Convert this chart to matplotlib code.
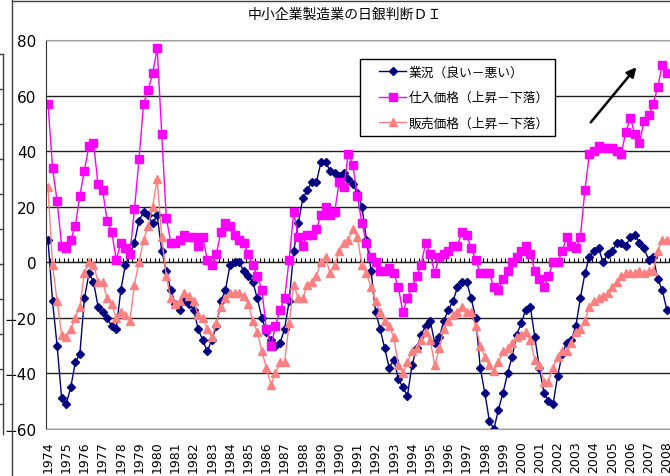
import matplotlib.pyplot as plt
from matplotlib.lines import Line2D
from matplotlib.legend_handler import HandlerLine2D
import numpy as np

plt.rcParams['font.family'] = ['Noto Sans CJK JP', 'DejaVu Sans']

# quarterly DI, 1974 Q1 onwards
first_year, last_year = 1974, 2008

business = [8, -14, -30, -49, -51, -45, -36, -33, -13, -4, -7, -16, -18, -20, -23, -24,
            -10, -1, 3, 7, 15, 18, 17, 14, 17, 4, -3, -10, -15, -17, -14, -15,
            -17, -24, -28, -32, -28, -23, -14, -10, -1, 0, 0, -3, -5, -7, -13, -20,
            -25, -28, -30, -29, -24, -14, 4, 14, 23, 26, 29, 29, 36, 36, 33, 32,
            31, 32, 30, 28, 25, 20, 8, -3, -18, -24, -31, -38, -35, -42, -45, -48,
            -37, -31, -26, -23, -21, -29, -27, -21, -17, -14, -9, -7, -7, -13, -20, -38,
            -47, -57, -60, -53, -47, -40, -34, -26, -22, -17, -16, -27, -38, -47, -50, -51,
            -41, -33, -29, -28, -23, -13, -4, 2, 4, 5, 0, 3, 4, 7, 7, 6,
            9, 10, 7, 5, 1, 2, -6, -10, -17]

input_price = [57, 34, 22, 6, 5, 8, 13, 24, 33, 42, 43, 28, 26, 15, 11, 1,
               7, 5, 3, 19, 37, 57, 62, 68, 77, 46, 16, 7, 7, 8, 10, 9,
               9, 6, 9, 1, -1, 3, 11, 14, 13, 10, 8, 7, 3, -1, -5, -10,
               -24, -30, -23, -17, -13, 1, 18, 9, 6, 10, 10, 12, 17, 20, 17, 18,
               29, 27, 39, 35, 24, 14, 7, 2, 0, -3, -3, -2, -4, -9, -18, -13,
               -9, -5, -1, 7, 3, -4, 2, 3, 4, 6, 6, 11, 10, 5, 1, -4,
               -4, -4, -9, -10, -6, -3, 0, 2, 4, 6, 3, -3, -6, -9, -5, 0,
               0, 4, 9, 6, 5, 9, 26, 39, 40, 42, 41, 41, 41, 40, 39, 47,
               52, 46, 43, 51, 53, 57, 63, 71, 68]

output_price = [27, -1, -14, -26, -27, -24, -20, -16, -4, 0, -1, -7, -7, -13, -15, -20,
                -18, -19, -21, -8, 0, 8, 13, 20, 30, 9, -5, -13, -15, -14, -11, -12,
                -14, -19, -20, -24, -27, -22, -16, -13, -11, -11, -11, -12, -15, -21, -25, -32,
                -38, -44, -40, -36, -36, -22, -8, -13, -13, -8, -7, -5, 0, 2, -4, -1,
                4, 7, 8, 12, 9, -1, -4, -9, -14, -18, -21, -23, -27, -37, -40, -36,
                -32, -31, -28, -25, -28, -37, -31, -24, -21, -19, -18, -16, -18, -18, -23, -30,
                -34, -37, -39, -36, -32, -31, -29, -27, -26, -25, -28, -35, -37, -43, -43, -38,
                -34, -32, -32, -29, -25, -24, -21, -16, -14, -13, -12, -11, -9, -7, -5, -4,
                -4, -4, -3, -4, -3, -3, 4, 8, 8]

series_names = ['業況（良い－悪い）', '仕入価格（上昇－下落）', '販売価格（上昇－下落）']
title = '中小企業製造業の日銀判断ＤＩ'

W, H = 670, 477
fig = plt.figure(figsize=(W / 100, H / 100), dpi=100)

# plot area in pixels; the right part runs off the canvas
pl, pt, pb, pr = 46, 41, 430, 700
x0, step = 48, 4.55
ax = fig.add_axes([pl / W, 1 - pb / H, (pr - pl) / W, (pb - pt) / H])

x = np.arange(len(business))
ax.plot(x, business, color='#000080', lw=1, marker='D', ms=4.5, label=series_names[0])
ax.plot(x, input_price, color='#FF00FF', lw=1, marker='s', ms=5.5, label=series_names[1])
ax.plot(x, output_price, color='#FF8080', lw=1, marker='^', ms=6, label=series_names[2])

ax.set_xlim((pl - x0) / step, (pr - x0) / step)
ax.set_ylim(-60, 80)
ax.set_yticks(range(-60, 81, 20))
ax.yaxis.grid(True, color='#202020', lw=1)
ax.set_axisbelow(True)

year_list = list(range(first_year, last_year + 1))
ax.set_xticks([4 * (y - first_year) for y in year_list])
ax.set_xticklabels([str(y) for y in year_list], rotation=90, fontsize=9,
                   family=['DejaVu Sans'])
ax.tick_params(axis='x', length=0, pad=8)
ax.tick_params(axis='y', length=0, pad=7, labelsize=11)
for lab in ax.get_yticklabels():
    lab.set_family(['Liberation Sans Narrow', 'DejaVu Sans'])

for side in ['top', 'bottom', 'right']:
    ax.spines[side].set_color('#a0a0a0')
ax.spines['left'].set_color('#303030')

# category axis crossing at zero with small inward ticks
zero_axis = ax.secondary_xaxis(0, transform=ax.transData)
zero_axis.set_xticks(x + 0.5)
zero_axis.tick_params(direction='in', length=3, width=0.8, color='black',
                      labelbottom=False, labeltop=False)
for s in zero_axis.spines.values():
    s.set_color('black')

fig.text(345 / W, 1 - 15 / H, title, ha='center', va='center', fontsize=10)

leg = ax.legend(loc='upper left', bbox_to_anchor=(360 / W, 1 - 60 / H),
                bbox_transform=fig.transFigure, borderaxespad=0, fontsize=9.2,
                frameon=True, fancybox=False, framealpha=1, edgecolor='black',
                borderpad=0.5, handlelength=3.1, handletextpad=0.2, labelspacing=1.0,
                handler_map={Line2D: HandlerLine2D(xpad=1.0)})
leg.get_frame().set_linewidth(1)

ax.annotate('', xy=(129.7, 71), xytext=(118.9, 49.6),
            arrowprops=dict(arrowstyle='-|>', color='black', lw=1.8, mutation_scale=14))

# chart border and the edge of the neighbouring chart
fig.add_artist(Line2D([12.5 / W, 12.5 / W], [0, 1], color='#404040', lw=1,
                      transform=fig.transFigure))
fig.add_artist(Line2D([12.5 / W, 1], [1 - 2 / H, 1 - 2 / H], color='#404040', lw=1,
                      transform=fig.transFigure))
fig.add_artist(Line2D([3 / W, 3 / W], [1 - 55 / H, 1 - 435 / H], color='#404040', lw=1,
                      transform=fig.transFigure))
for yy in range(55, 436, 35):
    fig.add_artist(Line2D([0, 3 / W], [1 - yy / H, 1 - yy / H], color='#404040', lw=1,
                          transform=fig.transFigure))

fig.savefig('out.png', dpi=100)
